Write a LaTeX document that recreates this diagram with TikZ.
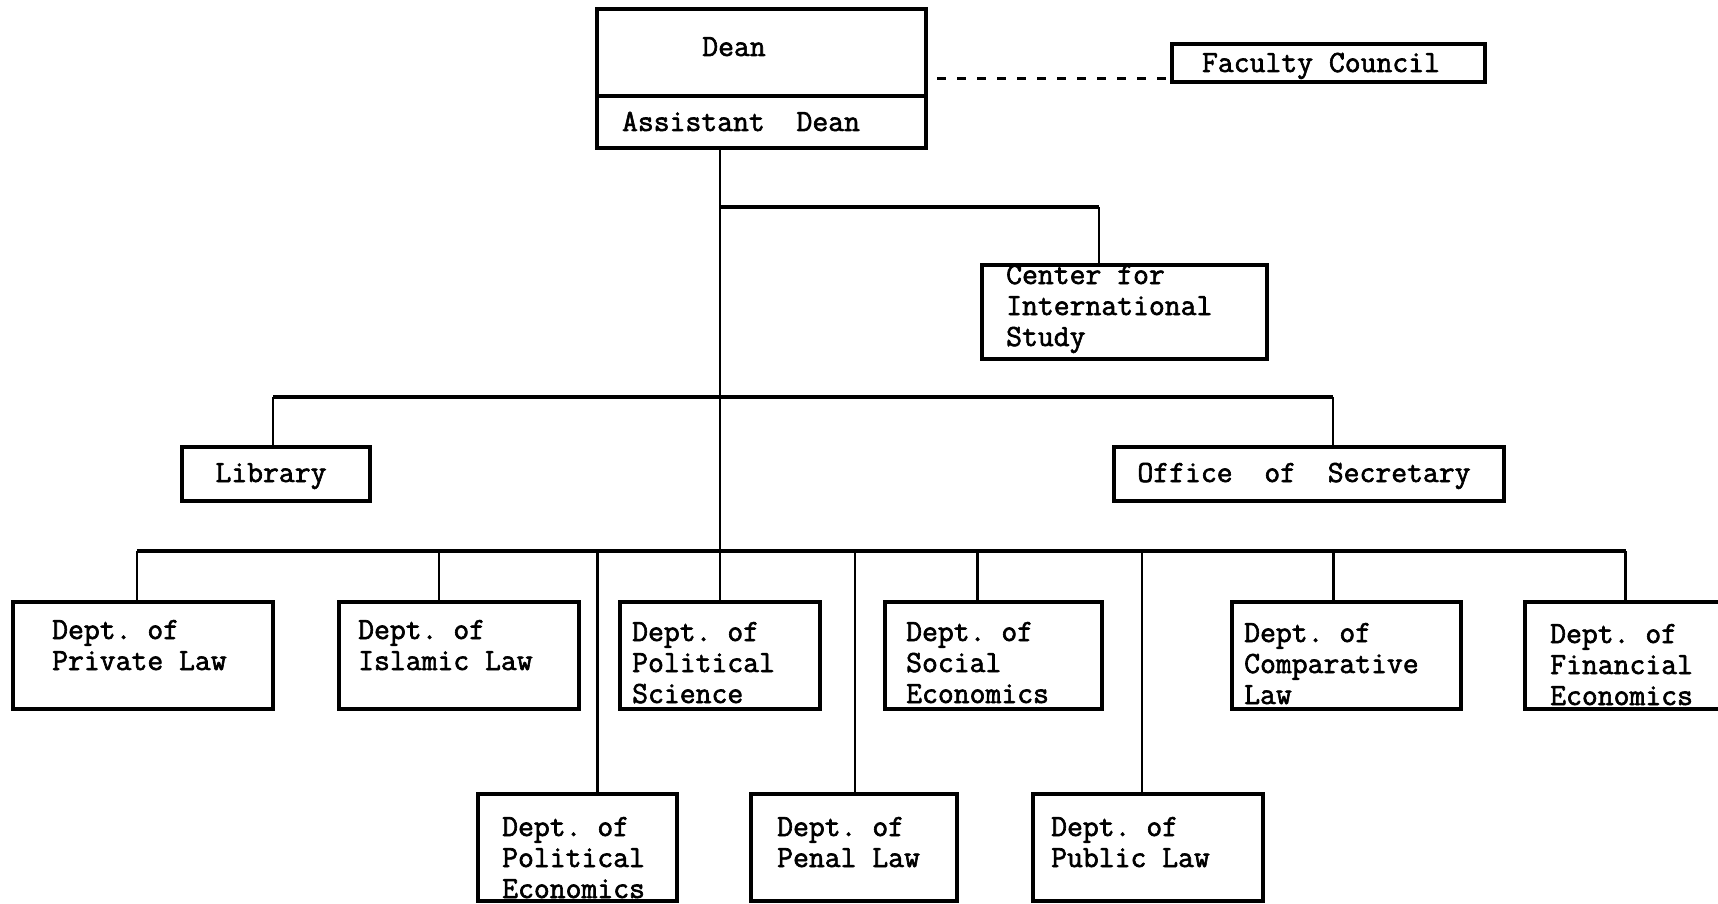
\documentclass[tikz,border=0pt]{standalone}
\usepackage{fontspec}
\setmonofont{Latin Modern Mono}[FakeBold=2]
\newcommand{\orgbox}[5]{%
  \node[box, minimum width={(#4-#2)*1pt}, minimum height={(#5-#3)*1pt}] (#1) at (#2,#3) {};}
\begin{document}
\begin{tikzpicture}[x=1pt,y=-1pt,
  box/.style={draw, line width=3.4pt, anchor=north west, inner sep=0pt, outer sep=0pt},
  lbl/.style={anchor=base west, inner sep=0pt, align=left,
    font=\ttfamily\fontsize{30.8}{31}\selectfont},
  clbl/.style={lbl, anchor=base},
  bar/.style={line width=3.6pt},
  stem/.style={line width=2.8pt},
  dashline/.style={line width=2.8pt, dash pattern=on 9pt off 11pt}]
\useasboundingbox[fill=white] (0,0) rectangle (1718,904);

% --- boxes ---
\orgbox{dean}{597}{9}{926}{148}
\orgbox{fac}{1172}{44}{1485}{82}
\orgbox{center}{982}{265}{1267}{359}
\orgbox{lib}{182}{447}{370}{501}
\orgbox{office}{1114}{447}{1504}{501}
\orgbox{priv}{13}{602}{273}{709}
\orgbox{isl}{339}{602}{579}{709}
\orgbox{polsci}{620}{602}{820}{709}
\orgbox{social}{885}{602}{1102}{709}
\orgbox{comp}{1232}{602}{1461}{709}
\orgbox{fin}{1525}{602}{1730}{709}
\orgbox{polecon}{478}{794}{677}{901}
\orgbox{penal}{751}{794}{957}{901}
\orgbox{public}{1033}{794}{1263}{901}

% divider inside the dean box
\draw[line width=3.4pt] (dean.west |- 0,96) -- (dean.east |- 0,96);

% --- labels (base = baseline of the last line) ---
\node[clbl] (dean-t) at (734,56) {Dean};
\node[clbl] (adean-t) at (741,131) {Assistant~~Dean};
\node[clbl] (fac-t) at (1321,72) {Faculty Council};
\node[lbl] (center-t) at (1006,346) {Center for\\International\\Study};
\node[clbl] (lib-t) at (271,482) {Library};
\node[clbl] (office-t) at (1304,482) {Office~~of~~Secretary};
\node[lbl] (priv-t) at (52,670) {Dept. of\\Private Law};
\node[lbl] (isl-t) at (358,670) {Dept. of\\Islamic Law};
\node[lbl] (polsci-t) at (632,703) {Dept. of\\Political\\Science};
\node[lbl] (social-t) at (906,703) {Dept. of\\Social\\Economics};
\node[lbl] (comp-t) at (1244,704) {Dept. of\\Comparative\\Law};
\node[lbl] (fin-t) at (1550,705) {Dept. of\\Financial\\Economics};
\node[lbl] (polecon-t) at (502,898) {Dept. of\\Political\\Economics};
\node[lbl] (penal-t) at (777,867) {Dept. of\\Penal Law};
\node[lbl] (public-t) at (1051,867) {Dept. of\\Public Law};

% --- connectors ---
% dashed link to the council
\draw[dashline] ([xshift=11pt]dean.east) -- (dean.east -| fac.west);
% main trunk
\draw[stem] (dean.south -| polsci.north) -- (polsci.north);
% center for international study
\draw[bar] ([yshift=-59pt]dean.south -| polsci.north) -- ([xshift=117pt,yshift=58pt]center.north west);
\draw[stem] ([xshift=117pt]center.north west) -- ++(0,-58);
% library and office
\draw[bar] ([xshift=-3pt,yshift=50pt]lib.north) -- ([xshift=24pt,yshift=50pt]office.north);
\draw[stem] ([xshift=-3pt]lib.north) -- ++(0,-50);
\draw[stem] ([xshift=24pt]office.north) -- ++(0,-50);
% department bar
\draw[bar] ([xshift=-6pt,yshift=51pt]priv.north) -- ([xshift=-2pt,yshift=51pt]fin.north);
\foreach \n/\dx in {priv/-6, isl/-20, social/-16, comp/-13, fin/-2}
  \draw[stem] ([xshift=\dx pt]\n.north) -- ++(0,-51);
\foreach \n/\dx in {polecon/20, penal/1, public/-6}
  \draw[stem] ([xshift=\dx pt]\n.north) -- ++(0,-243);
\end{tikzpicture}
\end{document}
